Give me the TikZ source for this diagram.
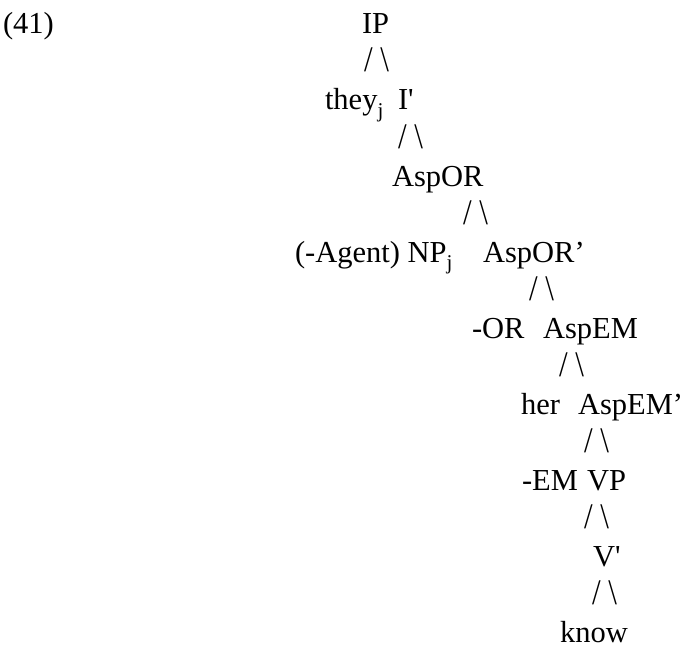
\documentclass[tikz,border=0pt]{standalone}
\usepackage{fontspec}
\setmainfont{Liberation Serif}
\newcommand{\subj}{\raisebox{-0.24em}{\fontsize{21bp}{21bp}\selectfont j}}
\newcommand{\sq}{\textquotesingle}
\newcommand{\fork}{\scalebox{0.86}[1]{/ \textbackslash}}
\begin{document}
\begin{tikzpicture}[x=1bp,y=-1bp,
  lbl/.style={anchor=base west,inner sep=0pt,outer sep=0pt,
    font=\fontsize{30.5bp}{38bp}\selectfont},
  br/.style={anchor=base west,inner sep=0pt,outer sep=0pt,
    font=\fontsize{36bp}{38bp}\selectfont}]
\useasboundingbox (0,0) rectangle (684,651);
\def\rowy#1{34+38.0*#1}
\node[lbl] (num)   at (3,{\rowy{0}})   {(41)};
\node[lbl] (ip)    at (362,{\rowy{0}}) {IP};
\node[br]  (b1)    at (364,{\rowy{1}}) {\fork};
\node[lbl] (they)  at (325,{\rowy{2}}) {they\subj};
\node[lbl] (ibar)  at (398,{\rowy{2}}) {I\sq};
\node[br]  (b2)    at (398,{\rowy{3}}) {\fork};
\node[lbl] (aspor) at (392,{\rowy{4}}) {AspOR};
\node[br]  (b3)    at (463,{\rowy{5}}) {\fork};
\node[lbl] (np)    at (295,{\rowy{6}}) {(-Agent) NP\subj};
\node[lbl] (asporb) at (483,{\rowy{6}}) {AspOR’};
\node[br]  (b4)    at (529,{\rowy{7}}) {\fork};
\node[lbl] (or)    at (472,{\rowy{8}}) {-OR};
\node[lbl] (aspem) at (543,{\rowy{8}}) {AspEM};
\node[br]  (b5)    at (559,{\rowy{9}}) {\fork};
\node[lbl] (her)   at (521,{\rowy{10}}) {her};
\node[lbl] (aspemb) at (578,{\rowy{10}}) {AspEM’};
\node[br]  (b6)    at (584,{\rowy{11}}) {\fork};
\node[lbl] (em)    at (522,{\rowy{12}}) {-EM};
\node[lbl] (vp)    at (587,{\rowy{12}}) {VP};
\node[br]  (b7)    at (584,{\rowy{13}}) {\fork};
\node[lbl] (vbar)  at (593,{\rowy{14}}) {V\sq};
\node[br]  (b8)    at (592,{\rowy{15}}) {\fork};
\node[lbl] (know)  at (560,{\rowy{16}}) {know};
\end{tikzpicture}
\end{document}
